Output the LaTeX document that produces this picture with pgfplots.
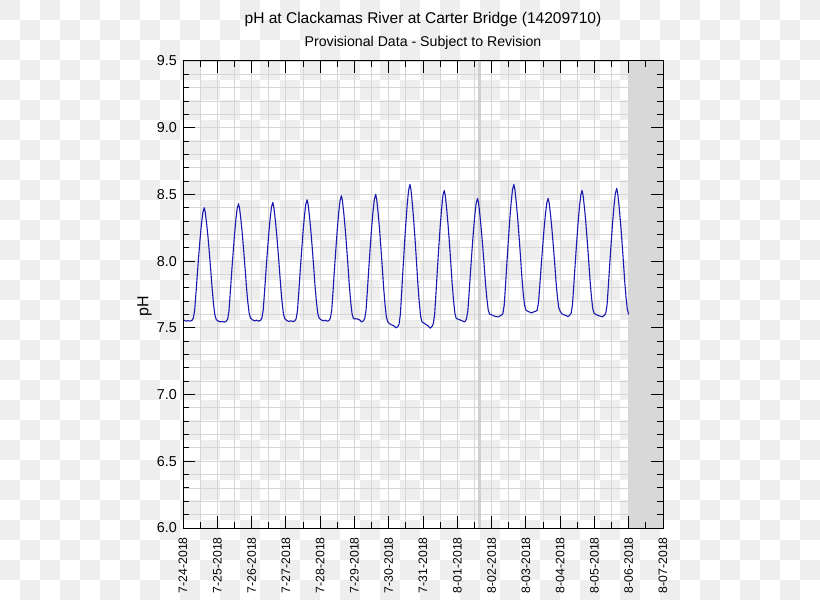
\documentclass[border=0pt]{standalone}
\usepackage{fontspec}
\setmainfont{Liberation Sans}
\usepackage{pgfplots}
\pgfplotsset{compat=1.18}

\definecolor{checker}{RGB}{238,238,238}
\definecolor{gridgray}{RGB}{214,214,214}
\definecolor{bandgray}{RGB}{216,216,216}
\definecolor{markgray}{RGB}{208,208,208}
\definecolor{phblue}{RGB}{25,25,175}

\pgfplotsset{
  phbox/.style={
    at={(183bp,72bp)}, anchor=south west,
    scale only axis, width=480bp, height=467bp,
    xmin=0, xmax=14, ymin=6, ymax=9.5,
    xtick={0,...,14}, minor x tick num=1,
    ytick={6,6.5,...,9.5}, minor y tick num=4,
  }
}

\begin{document}
\begin{tikzpicture}
\useasboundingbox (0,0) rectangle (820bp,600bp);

% transparent-background checkerboard (20px squares)
\foreach \i in {0,...,40}{
  \foreach \j in {0,...,29}{
    \pgfmathtruncatemacro\k{mod(\i+\j,2)}
    \ifnum\k=0
      \fill[checker] ({\i*20bp},{580bp-\j*20bp}) rectangle ++(20bp,20bp);
    \fi
  }
}

% layer 1: grid, shaded band, data
\begin{axis}[phbox,
    grid=both,
    grid style={gridgray, line width=0.9bp},
    minor grid style={gridgray, line width=0.9bp},
    major tick length=0pt, minor tick length=0pt,
    axis line style={draw=none},
    xticklabels={}, yticklabels={},
]
\addplot[draw=none, fill=bandgray] coordinates {(13,9.5) (14,9.5)} \closedcycle;
\addplot[markgray, line width=3bp] coordinates {(8.647,6) (8.647,9.5)};

\addplot[phblue, line width=1.1bp, line join=round] coordinates {
(0.00,7.560)(0.05,7.555)(0.10,7.550)(0.15,7.555)(0.20,7.550)(0.26,7.555)
(0.30,7.572)(0.34,7.631)(0.38,7.766)(0.42,7.910)(0.46,8.045)(0.50,8.172)(0.54,8.282)(0.58,8.366)(0.62,8.400)
(0.65,8.366)(0.69,8.280)(0.73,8.178)(0.77,8.058)(0.81,7.930)(0.85,7.793)(0.89,7.682)(0.93,7.596)(0.97,7.562)
(1.03,7.550)(1.09,7.545)(1.15,7.548)(1.21,7.543)(1.26,7.550)
(1.30,7.563)(1.34,7.625)(1.38,7.766)(1.42,7.917)(1.46,8.058)(1.50,8.191)(1.54,8.306)(1.58,8.395)(1.62,8.430)
(1.65,8.395)(1.69,8.308)(1.73,8.203)(1.77,8.080)(1.81,7.949)(1.85,7.809)(1.89,7.695)(1.93,7.608)(1.97,7.573)
(2.03,7.560)(2.09,7.552)(2.15,7.558)(2.21,7.550)(2.26,7.556)
(2.30,7.573)(2.34,7.635)(2.38,7.776)(2.42,7.927)(2.46,8.068)(2.50,8.201)(2.54,8.316)(2.58,8.405)(2.62,8.440)
(2.65,8.404)(2.69,8.315)(2.73,8.209)(2.77,8.084)(2.81,7.951)(2.85,7.808)(2.89,7.692)(2.93,7.603)(2.97,7.568)
(3.03,7.555)(3.09,7.548)(3.15,7.553)(3.21,7.547)(3.26,7.552)
(3.30,7.568)(3.34,7.632)(3.38,7.778)(3.42,7.932)(3.46,8.078)(3.50,8.214)(3.54,8.333)(3.58,8.424)(3.62,8.460)
(3.65,8.424)(3.69,8.333)(3.73,8.225)(3.77,8.098)(3.81,7.962)(3.85,7.817)(3.89,7.700)(3.93,7.609)(3.97,7.573)
(4.03,7.560)(4.09,7.553)(4.15,7.557)(4.21,7.550)(4.26,7.556)
(4.30,7.574)(4.34,7.639)(4.38,7.789)(4.42,7.948)(4.46,8.097)(4.50,8.238)(4.54,8.359)(4.58,8.453)(4.62,8.490)
(4.65,8.452)(4.69,8.358)(4.73,8.246)(4.77,8.114)(4.81,7.973)(4.85,7.823)(4.89,7.700)(4.93,7.606)(4.97,7.569)
(5.03,7.568)(5.09,7.566)(5.15,7.560)(5.21,7.545)(5.26,7.552)
(5.30,7.569)(5.34,7.636)(5.38,7.788)(5.42,7.949)(5.46,8.101)(5.50,8.244)(5.54,8.367)(5.58,8.462)(5.62,8.500)
(5.65,8.461)(5.69,8.364)(5.73,8.247)(5.77,8.110)(5.81,7.964)(5.85,7.808)(5.89,7.681)(5.93,7.584)(5.97,7.545)
(6.03,7.530)(6.09,7.522)(6.15,7.515)(6.21,7.500)(6.26,7.508)
(6.30,7.526)(6.34,7.601)(6.38,7.773)(6.42,7.954)(6.46,8.126)(6.50,8.286)(6.54,8.425)(6.58,8.532)(6.62,8.575)
(6.65,8.533)(6.69,8.428)(6.73,8.302)(6.77,8.155)(6.81,7.998)(6.85,7.830)(6.89,7.693)(6.93,7.588)(6.97,7.546)
(7.03,7.535)(7.09,7.525)(7.15,7.515)(7.21,7.498)(7.26,7.510)
(7.30,7.530)(7.34,7.602)(7.38,7.765)(7.42,7.938)(7.46,8.102)(7.50,8.255)(7.54,8.387)(7.58,8.489)(7.62,8.530)
(7.65,8.491)(7.69,8.393)(7.73,8.275)(7.77,8.138)(7.81,7.991)(7.85,7.834)(7.89,7.707)(7.93,7.609)(7.97,7.570)
(8.03,7.565)(8.09,7.558)(8.15,7.552)(8.21,7.545)(8.24,7.552)
(8.27,7.568)(8.31,7.633)(8.35,7.780)(8.39,7.936)(8.43,8.084)(8.47,8.222)(8.51,8.341)(8.55,8.433)(8.59,8.470)
(8.62,8.435)(8.66,8.346)(8.70,8.240)(8.74,8.116)(8.78,7.983)(8.82,7.842)(8.86,7.727)(8.90,7.638)(8.94,7.603)
(9.00,7.598)(9.06,7.590)(9.12,7.585)(9.18,7.582)(9.24,7.588)(9.28,7.595)
(9.33,7.605)(9.37,7.674)(9.41,7.833)(9.45,8.001)(9.49,8.159)(9.53,8.308)(9.57,8.436)(9.61,8.535)(9.65,8.575)
(9.68,8.537)(9.72,8.441)(9.76,8.325)(9.80,8.191)(9.84,8.047)(9.88,7.893)(9.92,7.769)(9.96,7.673)(10.00,7.634)
(10.05,7.625)(10.11,7.618)(10.17,7.612)(10.23,7.620)(10.29,7.625)
(10.33,7.632)(10.37,7.692)(10.41,7.829)(10.45,7.974)(10.49,8.111)(10.53,8.239)(10.57,8.350)(10.61,8.436)(10.65,8.470)
(10.68,8.435)(10.72,8.347)(10.76,8.241)(10.80,8.118)(10.84,7.986)(10.88,7.845)(10.92,7.731)(10.96,7.650)(11.00,7.625)
(11.05,7.605)(11.11,7.598)(11.17,7.592)(11.23,7.585)(11.28,7.595)
(11.32,7.609)(11.36,7.675)(11.40,7.825)(11.44,7.985)(11.48,8.135)(11.52,8.276)(11.56,8.398)(11.60,8.492)(11.64,8.530)
(11.67,8.492)(11.71,8.398)(11.75,8.286)(11.79,8.154)(11.83,8.013)(11.87,7.863)(11.91,7.740)(11.95,7.646)(11.99,7.609)
(12.05,7.600)(12.11,7.592)(12.17,7.588)(12.23,7.582)(12.29,7.595)
(12.33,7.609)(12.37,7.676)(12.41,7.829)(12.45,7.991)(12.49,8.144)(12.53,8.287)(12.57,8.411)(12.61,8.507)(12.65,8.545)
(12.68,8.506)(12.72,8.410)(12.76,8.294)(12.80,8.159)(12.84,8.014)(12.88,7.860)(12.92,7.734)(12.96,7.638)(13.00,7.600)
};
\end{axis}

% layer 2: frame, ticks and labels on top
\begin{axis}[phbox,
    tick align=inside,
    major tick length=12bp, minor tick length=6bp,
    tick style={black, line width=1bp},
    axis line style={black, line width=1bp},
    xticklabels={7-24-2018,7-25-2018,7-26-2018,7-27-2018,7-28-2018,7-29-2018,7-30-2018,7-31-2018,8-01-2018,8-02-2018,8-03-2018,8-04-2018,8-05-2018,8-06-2018,8-07-2018},
    yticklabels={6.0,6.5,7.0,7.5,8.0,8.5,9.0,9.5},
    xticklabel style={rotate=90, anchor=east, inner sep=0pt, font=\fontsize{12.3}{14}\selectfont},
    yticklabel style={anchor=east, inner sep=0pt, font=\fontsize{14.4}{16}\selectfont},
    xticklabel shift=9bp, yticklabel shift=6bp,
]
\end{axis}

\node[rotate=90, anchor=south, inner sep=0pt, font=\fontsize{16}{18}\selectfont] at (152bp,294bp) {pH};
\node[anchor=base, inner sep=0pt, font=\fontsize{15.6}{18}\selectfont] at (423bp,576bp) {pH at Clackamas River at Carter Bridge (14209710)};
\node[anchor=base, inner sep=0pt, font=\fontsize{14.2}{16}\selectfont] at (423bp,553bp) {Provisional Data - Subject to Revision};
\end{tikzpicture}
\end{document}
